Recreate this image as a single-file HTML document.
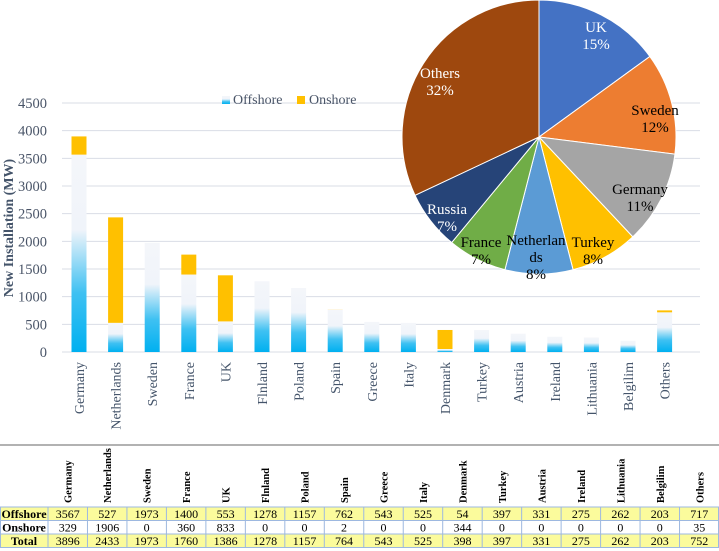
<!DOCTYPE html>
<html><head><meta charset="utf-8"><style>
body{margin:0;background:#fff;width:719px;height:551px;overflow:hidden;font-family:"Liberation Serif",serif}
svg{position:absolute;left:0;top:0}
</style></head><body>
<svg id="c" width="719" height="551"></svg>
<script>
const countries=["Germany","Netherlands","Sweden","France","UK","Finland","Poland","Spain","Greece","Italy","Denmark","Turkey","Austria","Ireland","Lithuania","Belgilim","Others"];
const xLabels=["Germany","Netherlands","Sweden","France","UK","Flnland","Poland","Spain","Greece","Italy","Denmark","Turkey","Austria","Ireland","Lithuania","Belgilim","Others"];
const offshore=[3567,527,1973,1400,553,1278,1157,762,543,525,54,397,331,275,262,203,717];
const onshore=[329,1906,0,360,833,0,0,2,0,0,344,0,0,0,0,0,35];
const totals=[3896,2433,1973,1760,1386,1278,1157,764,543,525,398,397,331,275,262,203,752];
const yTicks=[0,500,1000,1500,2000,2500,3000,3500,4000,4500];
const pieLabels=["UK","Sweden","Germany","Turkey","Netherlands","France","Russia","Others"];
const pieValues=[15,12,11,8,8,7,7,32];
const pieColors=["#4472c4","#ed7d31","#a5a5a5","#ffc000","#5b9bd5","#70ad47","#264478","#9e480e"];

const NS="http://www.w3.org/2000/svg";
const svg=document.getElementById('c');
function el(t,a,p){const e=document.createElementNS(NS,t);for(const k in a)e.setAttribute(k,a[k]);(p||svg).appendChild(e);return e;}
const y0=352,yTop=103,yMax=4500;
const yS=v=>y0-(v/yMax)*(y0-yTop);
const xS=i=>79+i*36.6;

const defs=el('defs',{});
const g=el('linearGradient',{id:'gOff',x1:0,y1:1,x2:0,y2:0},defs);
el('stop',{offset:'0','stop-color':'#00b0f0'},g);
el('stop',{offset:'0.3','stop-color':'#3fc1f2'},g);
el('stop',{offset:'0.62','stop-color':'#f0f4fa'},g);
el('stop',{offset:'1','stop-color':'#f4f6fa'},g);

yTicks.forEach(v=>{
  const l=el('line',{x1:62,x2:700,y1:yS(v),y2:yS(v),stroke:'#d9dde6','stroke-width':1});
  
  
  const t=el('text',{x:47,y:yS(v)+5,'text-anchor':'end','font-size':14.5,fill:'#4a5568'});
  t.textContent=v;
  
  
});
const yt=el('text',{x:0,y:0,transform:'translate(13,228) rotate(-90)','text-anchor':'middle','font-size':14,'font-weight':'bold',fill:'#44546a'});
yt.textContent='New Installation (MW)';



countries.forEach((c,i)=>{
  const x=xS(i)-7.5;
  const r=el('rect',{x:x,y:yS(offshore[i]),width:15,height:y0-yS(offshore[i]),fill:'url(#gOff)'});
  
  
  if(onshore[i]>0){
    const r2=el('rect',{x:x,y:yS(offshore[i]+onshore[i]),width:15,height:yS(offshore[i])-yS(offshore[i]+onshore[i]),fill:'#ffc000'});
    
    
  }
  const t=el('text',{x:0,y:0,transform:'translate('+(xS(i)+5)+',362) rotate(-90)','text-anchor':'end','font-size':14,fill:'#44546a'});
  t.textContent=xLabels[i];
  
  
});

const lg=el('g',{});


el('rect',{x:222,y:96,width:8,height:8,fill:'url(#gOff)'},lg);
let lt=el('text',{x:233,y:104,'font-size':14,fill:'#4a5568'},lg);lt.textContent='Offshore';
el('rect',{x:297,y:96,width:8,height:8,fill:'#ffc000'},lg);
lt=el('text',{x:309,y:104,'font-size':14,fill:'#4a5568'},lg);lt.textContent='Onshore';

const cx=539,cy=137,R=137;
let a=-Math.PI/2;const tot=pieValues.reduce((s,v)=>s+v,0);
const pieText=[["UK","15%"],["Sweden","12%"],["Germany","11%"],["Turkey","8%"],["Netherlan","ds","8%"],["France","7%"],["Russia","7%"],["Others","32%"]];
const lblPos=[[596,20],[655,103],[640,182],[593,235],[536,233],[481,235],[447,202],[440,66]];
const lblColor=["#fff","#000","#000","#000","#000","#000","#fff","#fff"];
pieValues.forEach((v,i)=>{
  const a2=a+v/tot*2*Math.PI;
  const x1=cx+R*Math.cos(a),y1=cy+R*Math.sin(a),x2=cx+R*Math.cos(a2),y2=cy+R*Math.sin(a2);
  const p=el('path',{d:`M${cx},${cy}L${x1},${y1}A${R},${R} 0 ${a2-a>Math.PI?1:0} 1 ${x2},${y2}Z`,fill:pieColors[i],stroke:'#fff','stroke-width':1});
  
  
  a=a2;
});
pieText.forEach((lines,i)=>{
  const t=el('text',{x:lblPos[i][0],y:lblPos[i][1]+12,'text-anchor':'middle','font-size':15,fill:lblColor[i]});
  
  
  lines.forEach((s,k)=>{const ts=el('tspan',{x:lblPos[i][0],dy:k?17:0},t);ts.textContent=s;});
});

el('line',{x1:0,x2:719,y1:445,y2:445,stroke:'#666','stroke-width':1});

const T=el('g',{});


const c0=48,cw=(719-c0)/17;
const rows=[["Offshore",offshore,'#fbfb9c'],["Onshore",onshore,'#fff'],["Total",totals,'#fbfb9c']];
const rt=507,rh=13.5;
countries.forEach((c,i)=>{
  const t=el('text',{x:0,y:0,transform:'translate('+(c0+cw*(i+0.5)+4)+',503) rotate(-90)','font-size':10.5,'font-weight':'bold',fill:'#000'},T);
  t.textContent=xLabels[i];
});
rows.forEach((r,ri)=>{
  const y=rt+ri*rh;
  el('rect',{x:0.5,y:y,width:718,height:rh,fill:r[2],stroke:'#9db8e0','stroke-width':1},T);
  const h=el('text',{x:24,y:y+11,'text-anchor':'middle','font-size':12,'font-weight':'bold'},T);h.textContent=r[0];
  r[1].forEach((v,i)=>{
    el('line',{x1:c0+cw*i,x2:c0+cw*i,y1:y,y2:y+rh,stroke:'#9db8e0'},T);
    const t=el('text',{x:c0+cw*(i+0.5),y:y+11,'text-anchor':'middle','font-size':12},T);t.textContent=v;
  });
});
</script>
</body></html>
